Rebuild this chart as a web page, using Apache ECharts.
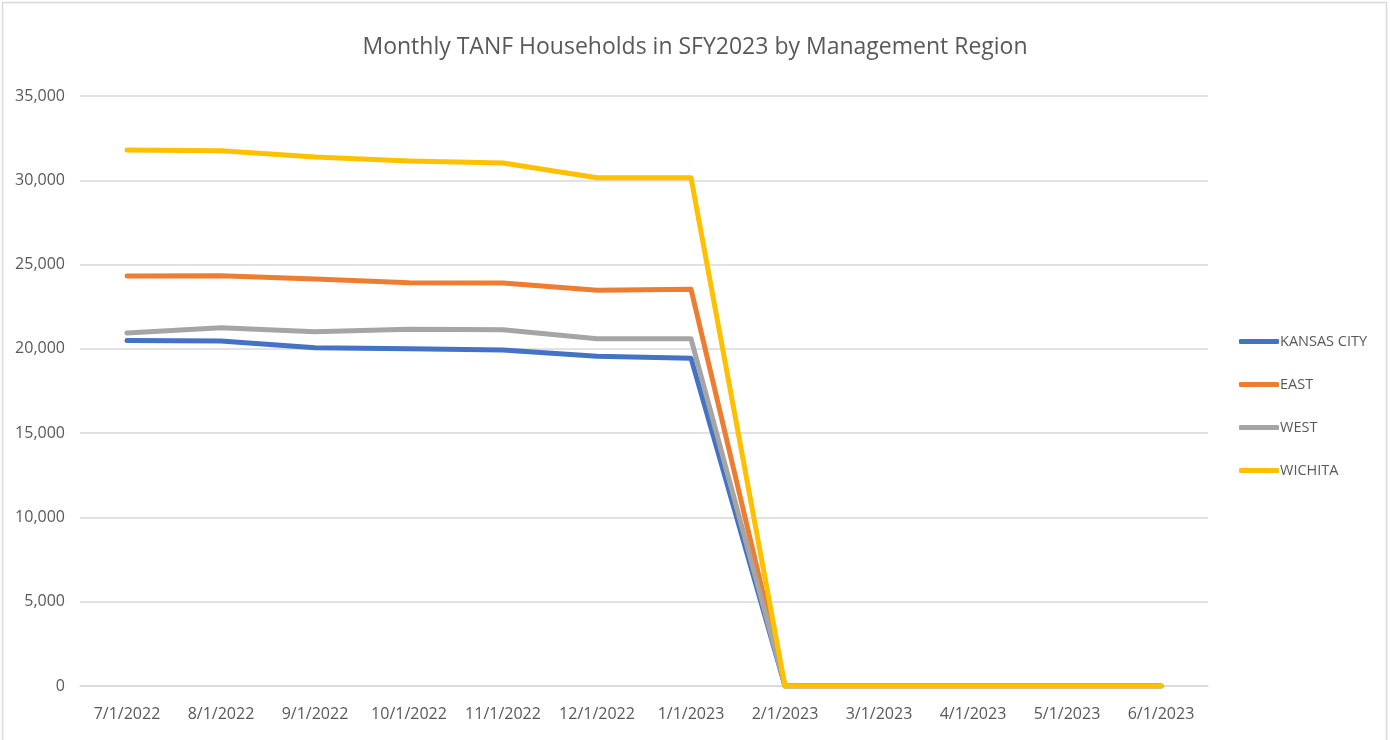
<!DOCTYPE html>
<html>
<head>
<meta charset="utf-8">
<script src="https://cdn.jsdelivr.net/npm/echarts@6/dist/echarts.min.js"></script>
<style>html,body{margin:0;padding:0;background:#fff}#c{width:1390px;height:740px}</style>
</head>
<body>
<div id="c"></div>
<script>
const categories = ['7/1/2022','8/1/2022','9/1/2022','10/1/2022','11/1/2022','12/1/2022','1/1/2023','2/1/2023','3/1/2023','4/1/2023','5/1/2023','6/1/2023'];
const kansasCity = [20500, 20460, 20070, 20010, 19930, 19560, 19450, 0, 0, 0, 0, 0];
const east = [24320, 24340, 24140, 23920, 23900, 23470, 23540, 0, 0, 0, 0, 0];
const west = [20940, 21250, 21010, 21170, 21130, 20600, 20600, 0, 0, 0, 0, 0];
const wichita = [31790, 31750, 31380, 31140, 31020, 30150, 30150, 0, 0, 0, 0, 0];
const yTicks = [0, 5000, 10000, 15000, 20000, 25000, 30000, 35000];

const FONT = "'Open Sans', sans-serif";
const chart = echarts.init(document.getElementById('c'), null, {renderer: 'canvas'});
function mk(name, data, color) {
  return {
    name, type: 'line', data, symbol: 'none', smooth: false,
    lineStyle: {width: 5, color, cap: 'round', join: 'round'},
    itemStyle: {color}
  };
}
chart.setOption({
  animation: false,
  backgroundColor: '#fff',
  graphic: [{
    type: 'rect', shape: {x: 2.5, y: 2.5, width: 1384, height: 745},
    style: {fill: 'none', stroke: '#d9d9d9', lineWidth: 1.5}, silent: true
  }],
  title: {
    text: 'Monthly TANF Households in SFY2023 by Management Region',
    left: 'center', top: 31,
    textStyle: {fontFamily: FONT, fontSize: 23, fontWeight: 'normal', color: '#595959'}
  },
  legend: {
    orient: 'vertical', left: 1234, top: 329, itemGap: 28,
    itemWidth: 40, itemHeight: 5, icon: 'roundRect',
    textStyle: {fontFamily: FONT, fontSize: 14.5, color: '#595959', padding: [0, 0, 0, -4]},
    data: ['KANSAS CITY', 'EAST', 'WEST', 'WICHITA']
  },
  grid: {left: 80, right: 182, top: 96, bottom: 54, containLabel: false},
  xAxis: {
    type: 'category', data: categories, boundaryGap: true,
    axisLine: {show: true, lineStyle: {color: '#d9d9d9', width: 1.5}},
    axisTick: {show: false},
    axisLabel: {fontFamily: FONT, fontSize: 16, color: '#595959', margin: 20, interval: 0}
  },
  yAxis: {
    type: 'value', min: 0, max: 35000, interval: 5000,
    axisLine: {show: false}, axisTick: {show: false},
    splitLine: {lineStyle: {color: '#d9d9d9', width: 1.5}},
    axisLabel: {
      fontFamily: FONT, fontSize: 16, color: '#595959', margin: 15,
      formatter: v => yTicks.includes(v) ? v.toLocaleString('en-US') : ''
    }
  },
  series: [
    mk('KANSAS CITY', kansasCity, '#4472C4'),
    mk('EAST', east, '#ED7D31'),
    mk('WEST', west, '#A5A5A5'),
    mk('WICHITA', wichita, '#FFC000')
  ]
});
</script>
</body>
</html>
